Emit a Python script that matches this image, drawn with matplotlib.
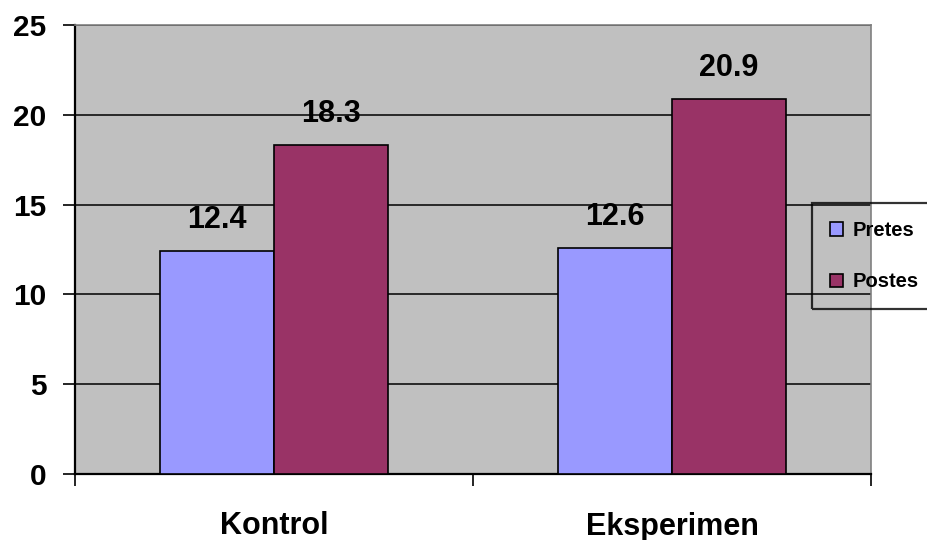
import numpy as np
import matplotlib
matplotlib.use("Agg")
import matplotlib.pyplot as plt
from matplotlib.patches import Patch

# scores per group
groups = ["Kontrol", "Eksperimen"]
series = ["Pretes", "Postes"]
pretes = [12.4, 12.6]
postes = [18.3, 20.9]
colors = ["#9999FF", "#993366"]

plt.rcParams['font.family'] = ['Liberation Sans', 'DejaVu Sans']
plt.rcParams['font.weight'] = 'bold'

fig = plt.figure(figsize=(9.28, 5.4), dpi=100)
ax = fig.add_axes([75 / 928, 1 - 474 / 540, 796 / 928, 449 / 540])
ax.set_facecolor("#C0C0C0")

x = np.arange(len(groups))
w = 1 / 3.5  # gap width 150%
for i, (vals, col) in enumerate(zip([pretes, postes], colors)):
    bars = ax.bar(x + (i - 0.5) * w, vals, width=w, color=col,
                  edgecolor="black", linewidth=1.2, zorder=3, label=series[i])
    for b, v in zip(bars, vals):
        ax.annotate(f"{v:.1f}", (b.get_x() + b.get_width() / 2, v),
                    xytext=(0, 16.5), textcoords="offset points",
                    ha="center", va="baseline", fontsize=22,
                    fontweight="bold", zorder=4)

ax.set_xlim(-0.5, len(groups) - 0.5)
ax.set_ylim(0, 25)
ax.set_yticks(range(0, 26, 5))
ax.yaxis.grid(True, color="black", linewidth=1.1, zorder=1)
ax.set_axisbelow(True)

# category boundaries get the tick marks, names sit between them
ax.set_xticks(np.arange(-0.5, len(groups), 1.0))
ax.set_xticklabels([])
ax.set_xticks(x, minor=True)
ax.set_xticklabels(groups, minor=True, fontsize=22, fontweight="bold")
ax.tick_params(axis="x", which="major", length=8.5, width=1.2, direction="out")
ax.tick_params(axis="x", which="minor", length=0, pad=27)
ax.tick_params(axis="y", length=8.5, width=1.2, pad=12, labelsize=21.5)

for s in ["left", "bottom"]:
    ax.spines[s].set_color("black")
    ax.spines[s].set_linewidth(1.6)
for s in ["top", "right"]:
    ax.spines[s].set_color("#808080")
    ax.spines[s].set_linewidth(1.2)

handles = [Patch(facecolor=c, edgecolor="black", linewidth=1.2) for c in colors]
leg = fig.legend(handles, series, loc="upper left",
                 bbox_to_anchor=(812 / 928, 1 - 203 / 540),
                 bbox_transform=fig.transFigure,
                 prop={"size": 14.5, "weight": "bold"},
                 frameon=True, fancybox=False, facecolor="none",
                 edgecolor="black", framealpha=None,
                 handlelength=0.65, handleheight=0.65, handletextpad=0.45,
                 labelspacing=1.6, borderpad=0.9, borderaxespad=0)
leg.get_frame().set_linewidth(1.6)

fig.savefig("out.png", dpi=100)
